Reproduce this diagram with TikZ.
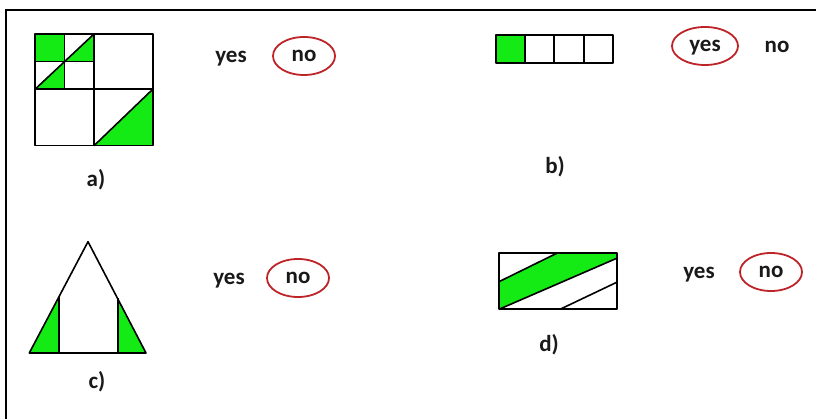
\documentclass[tikz,border=0pt]{standalone}
\usepackage{fontspec}
\setmainfont{Carlito}
\usetikzlibrary{shapes.geometric}
\definecolor{fillgreen}{RGB}{20,235,20}
\definecolor{circred}{RGB}{190,35,40}
\tikzset{
  figline/.style={draw=black,line width=1.6pt,line join=round},
  greenfill/.style={fill=fillgreen},
  lbl/.style={font=\bfseries\fontsize{23}{26}\selectfont,inner sep=0pt,text=black!90},
  word/.style={lbl,text height=10.7pt,text depth=0pt},
  circled/.style={draw=circred,line width=1.8pt,ellipse,minimum width=62pt,minimum height=38pt,inner sep=0pt,font=\bfseries\fontsize{23}{26}\selectfont,text=black!90,text height=10.7pt,text depth=0pt}
}
\begin{document}
\begin{tikzpicture}[x=1pt,y=-1pt]
\useasboundingbox (0,0) rectangle (816,419);
\fill[white] (0,0) rectangle (816,419);
% frame
\draw[line width=2pt] (6,419) -- (6,10) -- (816,10);

% ---------- a) ----------
\fill[greenfill] (35,34) rectangle (64.3,61.7);
\fill[greenfill] (64.3,61.7) -- (94,61.7) -- (94,34) -- cycle;
\fill[greenfill] (35,89.3) -- (64.3,89.3) -- (64.3,61.7) -- cycle;
\fill[greenfill] (94,145.7) -- (152.7,145.7) -- (152.7,89.3) -- cycle;
\draw[figline] (35,34) rectangle (152.7,145.7);
\draw[figline] (94,34) -- (94,145.7);
\draw[figline] (35,89.3) -- (152.7,89.3);
\draw[figline] (64.3,34) -- (64.3,89.3);
\draw[figline] (35,61.7) -- (94,61.7);
\draw[figline] (35,89.3) -- (94,34);
\draw[figline] (94,145.7) -- (152.7,89.3);
\node[lbl] (la) at (96,180) {a)};
\node[word] (ayes) at (231,57) {yes};
\node[circled] (ano) at (304,56) {no};

% ---------- b) ----------
\fill[greenfill] (495.7,35) rectangle (525,63.3);
\draw[figline] (495.7,35) rectangle (613,63.3);
\draw[figline] (525,35) -- (525,63.3);
\draw[figline] (554,35) -- (554,63.3);
\draw[figline] (584,35) -- (584,63.3);
\node[lbl] (lb) at (555,167) {b)};
\node[circled,minimum width=66pt] (byes) at (705,46) {yes};
\node[word] (bno) at (777,47) {no};

% ---------- c) ----------
\fill[greenfill] (29.3,353) -- (59,353) -- (59,296.7) -- cycle;
\fill[greenfill] (146,353) -- (117.7,353) -- (117.7,298.3) -- cycle;
\draw[figline] (29.3,353) -- (88,241.7) -- (146,353) -- cycle;
\draw[figline] (59,353) -- (59,296.7);
\draw[figline] (117.7,353) -- (117.7,298.3);
\node[lbl] (lc) at (97,382) {c)};
\node[word] (cyes) at (229,279) {yes};
\node[circled] (cno) at (298,278) {no};

% ---------- d) ----------
\fill[greenfill] (499,281.7) -- (556.7,253.3) -- (616.7,253.3) -- (616.7,258.3) -- (499,309.3) -- cycle;
\draw[figline] (499,253.3) rectangle (616.7,309.3);
\draw[figline] (499,281.7) -- (556.7,253.3);
\draw[figline] (499,309.3) -- (616.7,258.3);
\draw[figline] (560,309.3) -- (616.7,282.3);
\node[lbl] (ld) at (549,345) {d)};
\node[word] (dyes) at (699,273) {yes};
\node[circled] (dno) at (771,272) {no};
\end{tikzpicture}
\end{document}
